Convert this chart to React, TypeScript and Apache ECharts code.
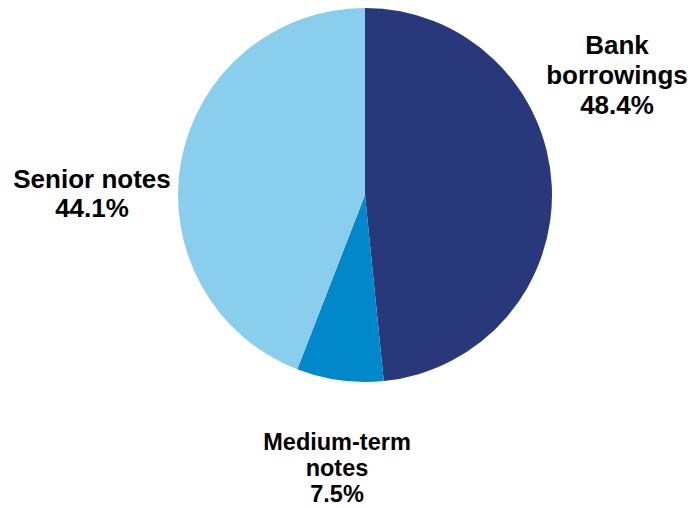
import React, { useEffect, useRef } from "react";
import * as echarts from "echarts";

const categories = ["Bank\nborrowings", "Medium-term\nnotes", "Senior notes"];
const values = [48.4, 7.5, 44.1];
const colors = ["#29387a", "#0088cb", "#89ceec"];
const labelCenters: [number, number][] = [
  [617, 75],
  [337, 468],
  [92, 193],
];
const labelFontSizes = [26, 23.5, 26];
const labelLineHeights = [30, 26, 29];

export default function App() {
  const ref = useRef<HTMLDivElement>(null);
  useEffect(() => {
    if (!ref.current) return;
    const chart = echarts.init(ref.current, null, { renderer: "svg" });
    chart.setOption({
      animation: false,
      backgroundColor: "#ffffff",
      series: [
        {
          type: "pie",
          center: [365, 195],
          radius: [0, 187],
          startAngle: 90,
          clockwise: true,
          data: categories.map((c, i) => ({
            name: c,
            value: values[i],
            itemStyle: { color: colors[i] },
            label: { fontSize: labelFontSizes[i], lineHeight: labelLineHeights[i] },
          })),
          label: {
            show: true,
            position: "outside",
            formatter: (p: any) => `${p.name}\n${p.value.toFixed(1)}%`,
            fontFamily: "Liberation Sans, Arial, sans-serif",
            fontWeight: "bold",
            color: "#000000",
            align: "center",
            overflow: "none",
            width: 300,
          },
          labelLine: { show: false },
          labelLayout: (params: any) => {
            const [x, y] = labelCenters[params.dataIndex];
            return { x, y, align: "center", verticalAlign: "middle" };
          },
          emphasis: { disabled: true },
        },
      ],
    });
    return () => chart.dispose();
  }, []);
  return (
    <div
      ref={ref}
      style={{ position: "fixed", left: 0, top: 0, width: 695, height: 508 }}
    />
  );
}
